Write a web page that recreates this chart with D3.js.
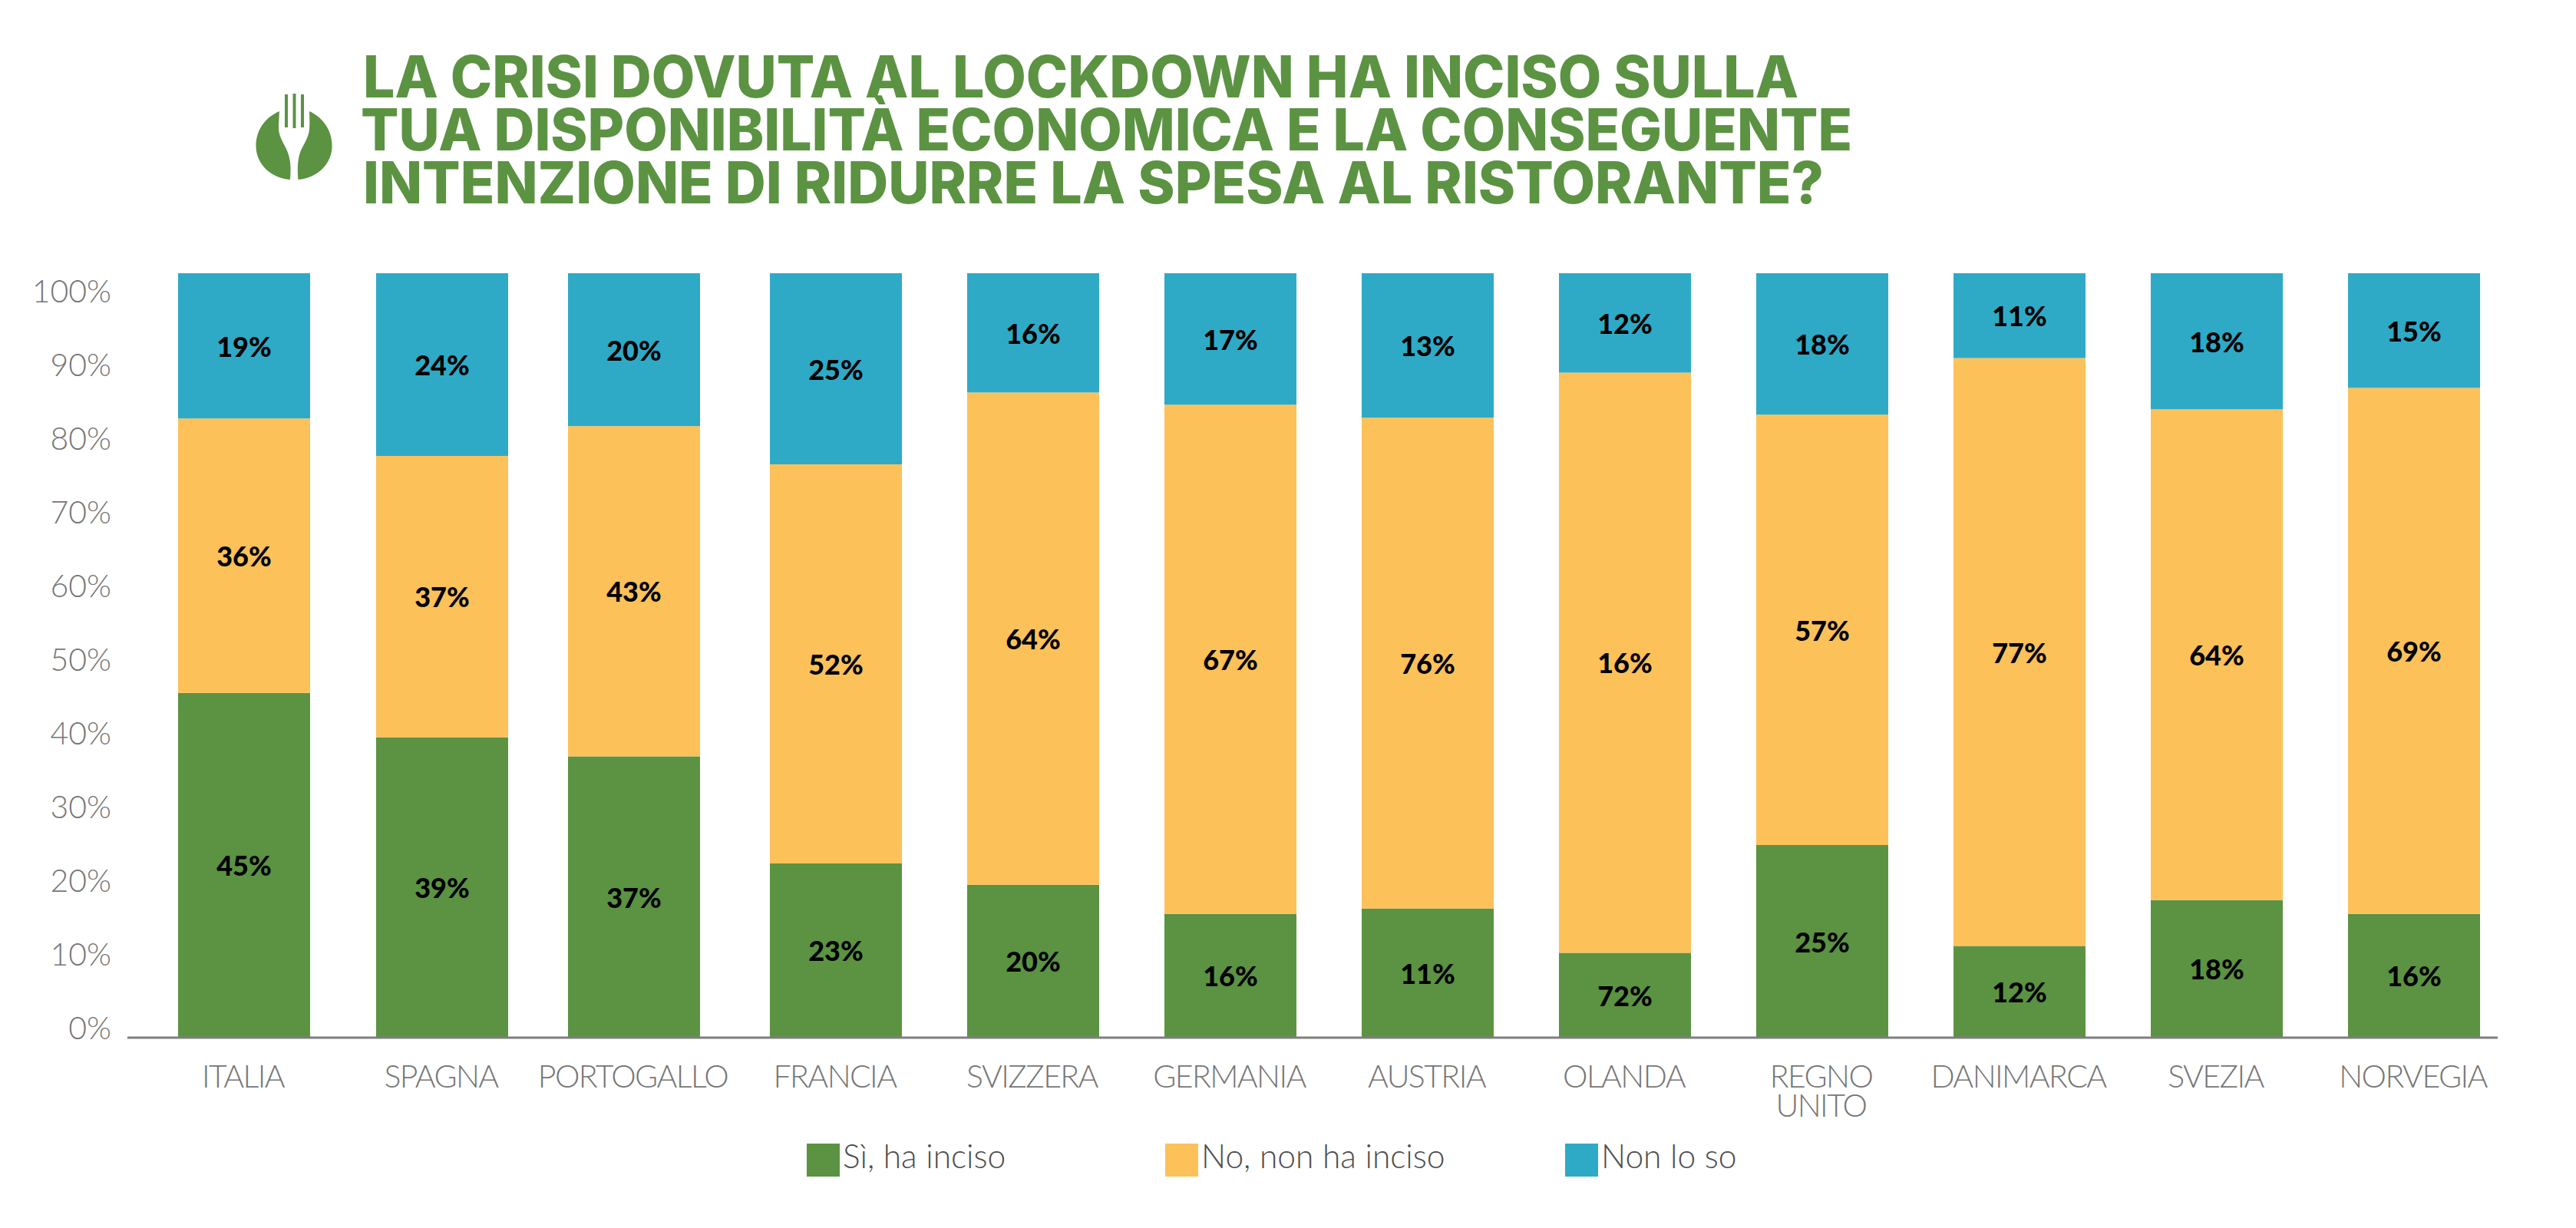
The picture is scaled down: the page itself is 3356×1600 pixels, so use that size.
<!DOCTYPE html>
<html lang="it">
<head>
<meta charset="utf-8">
<script src="https://d3js.org/d3.v7.min.js"></script>
<style>
html,body{margin:0;padding:0;background:#fff}
svg{display:block}
</style>
</head>
<body>
<svg id="chart" width="3356" height="1600"></svg>
<script>
const titleLines = [
  "LA CRISI DOVUTA AL LOCKDOWN HA INCISO SULLA",
  "TUA DISPONIBILITÀ ECONOMICA E LA CONSEGUENTE",
  "INTENZIONE DI RIDURRE LA SPESA AL RISTORANTE?"
];
const countries = ["ITALIA","SPAGNA","PORTOGALLO","FRANCIA","SVIZZERA","GERMANIA","AUSTRIA","OLANDA","REGNO UNITO","DANIMARCA","SVEZIA","NORVEGIA"];
const seriesNames = ["Sì, ha inciso","No, non ha inciso","Non lo so"];
// Segment heights as drawn (%)
const si    = [45.1,39.3,36.8,22.8,20.0,16.2,16.9,11.1,25.2,12.0,18.0,16.2];
const no    = [35.9,36.8,43.2,52.2,64.4,66.6,64.2,75.9,56.3,76.9,64.2,68.8];
const nonSo = [19.0,23.9,20.0,25.0,15.6,17.2,18.9,13.0,18.5,11.1,17.8,15.0];
// Printed labels, as shown on the picture
const siLabels    = [45,39,37,23,20,16,11,72,25,12,18,16];
const noLabels    = [36,37,43,52,64,67,76,16,57,77,64,69];
const nonSoLabels = [19,24,20,25,16,17,13,12,18,11,18,15];
const yTicks = [0,10,20,30,40,50,60,70,80,90,100];

const colors = ["#5b9342","#fdc15a","#2faac6"];
const svg = d3.select("#chart");
const FONT = "Lato, sans-serif";

const x = d3.scaleBand().domain(countries).range([232,3231]).paddingInner(85/257).paddingOuter(0);
const nudge = c => c === "PORTOGALLO" ? -6 : c === "SPAGNA" ? 1 : 0;   // columns that sit slightly off the grid
const yBar = d3.scaleLinear().domain([0,100]).range([1352,356]);
const yTickScale = d3.scaleLinear().domain([0,100]).range([1340,380]);

const table = countries.map((c,i)=>({country:c,0:si[i],1:no[i],2:nonSo[i]}));
const printed = [siLabels,noLabels,nonSoLabels];
const stack = d3.stack().keys([0,1,2])(table);

// Bars
const layers = svg.selectAll("g.layer").data(stack).join("g").attr("class","layer").attr("fill",(d,i)=>colors[i]);
layers.selectAll("rect").data(d=>d).join("rect")
  .attr("x",d=>x(d.data.country)+nudge(d.data.country))
  .attr("width",x.bandwidth())
  .attr("y",d=>yBar(d[1]))
  .attr("height",d=>yBar(d[0])-yBar(d[1]));

// Baseline
svg.append("line").attr("x1",166).attr("x2",3254).attr("y1",yBar(0)).attr("y2",yBar(0))
  .attr("stroke","#7f7f7f").attr("stroke-width",3);

// Data labels
stack.forEach((layer,k)=>{
  svg.append("g").selectAll("text").data(layer).join("text")
    .attr("x",d=>x(d.data.country)+nudge(d.data.country)+x.bandwidth()/2)
    .attr("y",d=>(yBar(d[0])+yBar(d[1]))/2+14)
    .attr("text-anchor","middle")
    .attr("font-family",FONT).attr("font-weight",900).attr("font-size",36)
    .attr("fill","#000")
    .text((d,i)=>printed[k][i]+"%");
});

// Y tick labels
const yAxis = d3.axisLeft(yTickScale).tickValues(yTicks).tickSize(0).tickPadding(0).tickFormat(d=>d+"%");
const gy = svg.append("g").attr("transform","translate(145,0)").call(yAxis);
gy.select(".domain").remove();
gy.selectAll("text").attr("font-family",FONT).attr("font-weight",300).attr("font-size",41).attr("fill","#767676");

// X labels
const gx = svg.append("g");
countries.forEach(c=>{
  const words = c === "REGNO UNITO" ? c.split(" ") : [c];
  words.forEach((w,j)=>{
    gx.append("text")
      .attr("x",x(c)+nudge(c)+x.bandwidth()/2-1.5)
      .attr("y",1417+j*38)
      .attr("text-anchor","middle")
      .attr("font-family",FONT).attr("font-weight",300).attr("font-size",41)
      .attr("letter-spacing",-1.6)
      .attr("fill","#767676")
      .text(w);
  });
});

// Legend
const legendX = [1051,1518,2039];
const legend = svg.append("g").selectAll("g").data(seriesNames).join("g");
legend.append("rect").attr("x",(d,i)=>legendX[i]).attr("y",1490).attr("width",43).attr("height",43).attr("fill",(d,i)=>colors[i]);
legend.append("text").attr("x",(d,i)=>legendX[i]+47).attr("y",1522)
  .attr("font-family",FONT).attr("font-weight",300).attr("font-size",42.5).attr("fill","#4d4d4d").text(d=>d);

// Title
const titleX = [473,470,473], titleW = [1870,1943,1903], titleY = [127,196,265];
svg.append("g").selectAll("text").data(titleLines).join("text")
  .attr("x",(d,i)=>titleX[i]).attr("y",(d,i)=>titleY[i])
  .attr("font-family","Inter, sans-serif").attr("font-weight",800).attr("font-size",75)
  .attr("fill","#5b9342")
  .attr("textLength",(d,i)=>titleW[i]).attr("lengthAdjust","spacingAndGlyphs")
  .text(d=>d);

// Logo
const logo = svg.append("g").attr("fill","#5b9342");
logo.append("path").attr("d","M364,145 C345,153 333.5,170 333.5,190 C333.5,213 352,232 378,234 C379,222 379,212 376,202 C373,191 366,184 363.5,172 C362.5,165 363.5,155 364,145 Z");
logo.append("path").attr("d","M403,145 C421,153 432.6,170 432.6,190 C432.6,213 414,232 388.4,234 C387.5,222 387.5,212 390,202 C393,191 400,184 402.5,172 C403.8,165 403.3,155 403,145 Z");
logo.append("rect").attr("x",371).attr("y",123).attr("width",4).attr("height",43);
logo.append("rect").attr("x",381.5).attr("y",122).attr("width",4).attr("height",45);
logo.append("rect").attr("x",392).attr("y",123).attr("width",4).attr("height",43);
</script>
</body>
</html>
